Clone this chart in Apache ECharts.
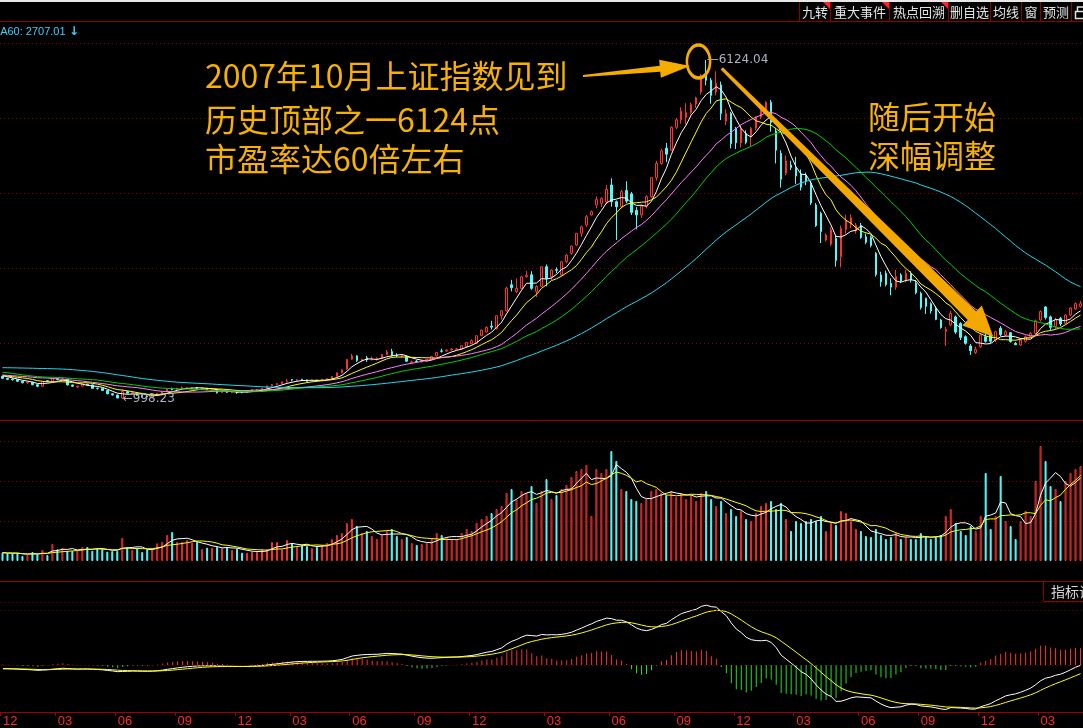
<!DOCTYPE html>
<html>
<head>
<meta charset="utf-8">
<script src="https://cdn.jsdelivr.net/npm/echarts/dist/echarts.min.js"></script>
<style>
html, body { margin: 0; padding: 0; background: #000; }
#main { width: 1083px; height: 728px; }
</style>
</head>
<body>
<div id="main"></div>
<script>
// weekly bars, Shanghai composite, Dec 2004 - Apr 2009
var weeks = [
  '2004-12-10','2004-12-17','2004-12-24','2004-12-31',
  '2005-01-07','2005-01-14','2005-01-21','2005-01-28','2005-02-04','2005-02-18','2005-02-25','2005-03-04','2005-03-11','2005-03-18','2005-03-25',
  '2005-04-01','2005-04-08','2005-04-15','2005-04-22','2005-04-29','2005-05-13','2005-05-20','2005-05-27','2005-06-03','2005-06-10','2005-06-17',
  '2005-06-24','2005-07-01','2005-07-08','2005-07-15','2005-07-22','2005-07-29','2005-08-05','2005-08-12','2005-08-19','2005-08-26','2005-09-02',
  '2005-09-09','2005-09-16','2005-09-23','2005-09-30','2005-10-14','2005-10-21','2005-10-28','2005-11-04','2005-11-11','2005-11-18','2005-11-25',
  '2005-12-02','2005-12-09','2005-12-16','2005-12-23','2005-12-30',
  '2006-01-06','2006-01-13','2006-01-20','2006-01-27','2006-02-10','2006-02-17','2006-02-24','2006-03-03','2006-03-10','2006-03-17','2006-03-24',
  '2006-03-31','2006-04-07','2006-04-14','2006-04-21','2006-04-28','2006-05-12','2006-05-19','2006-05-26','2006-06-02','2006-06-09','2006-06-16',
  '2006-06-23','2006-06-30','2006-07-07','2006-07-14','2006-07-21','2006-07-28','2006-08-04','2006-08-11','2006-08-18','2006-08-25','2006-09-01',
  '2006-09-08','2006-09-15','2006-09-22','2006-09-29','2006-10-13','2006-10-20','2006-10-27','2006-11-03','2006-11-10','2006-11-17','2006-11-24',
  '2006-12-01','2006-12-08','2006-12-15','2006-12-22','2006-12-29',
  '2007-01-05','2007-01-12','2007-01-19','2007-01-26','2007-02-02','2007-02-09','2007-02-16','2007-03-02','2007-03-09','2007-03-16','2007-03-23',
  '2007-03-30','2007-04-06','2007-04-13','2007-04-20','2007-04-27','2007-04-30','2007-05-11','2007-05-18','2007-05-25','2007-06-01','2007-06-08',
  '2007-06-15','2007-06-22','2007-06-29','2007-07-06','2007-07-13','2007-07-20','2007-07-27','2007-08-03','2007-08-10','2007-08-17','2007-08-24',
  '2007-08-31','2007-09-07','2007-09-14','2007-09-21','2007-09-28','2007-10-12','2007-10-19','2007-10-26','2007-11-02','2007-11-09','2007-11-16',
  '2007-11-23','2007-11-30','2007-12-07','2007-12-14','2007-12-21','2007-12-28',
  '2008-01-04','2008-01-11','2008-01-18','2008-01-25','2008-02-01','2008-02-05','2008-02-15','2008-02-22','2008-02-29','2008-03-07','2008-03-14',
  '2008-03-21','2008-03-28','2008-04-03','2008-04-11','2008-04-18','2008-04-25','2008-04-30','2008-05-09','2008-05-16','2008-05-23','2008-05-30',
  '2008-06-06','2008-06-13','2008-06-20','2008-06-27','2008-07-04','2008-07-11','2008-07-18','2008-07-25','2008-08-01','2008-08-08','2008-08-15',
  '2008-08-22','2008-08-29','2008-09-05','2008-09-12','2008-09-19','2008-09-26','2008-10-10','2008-10-17','2008-10-24','2008-10-31','2008-11-07',
  '2008-11-14','2008-11-21','2008-11-28','2008-12-05','2008-12-12','2008-12-19','2008-12-26','2008-12-31',
  '2009-01-09','2009-01-16','2009-01-23','2009-02-06','2009-02-13','2009-02-20','2009-02-27','2009-03-06','2009-03-13','2009-03-20','2009-03-27',
  '2009-04-03','2009-04-10'
];

// [open, close, low, high]
var ohlc = [
  [1340,1311,1300,1345],[1311,1296,1283,1320],[1300,1290,1275,1310],[1290,1266,1259,1295],
  [1266,1243,1235,1270],[1243,1253,1228,1262],[1253,1215,1205,1258],[1215,1191,1177,1222],[1190,1262,1186,1268],[1275,1265,1250,1285],
  [1265,1306,1260,1312],[1306,1290,1280,1318],[1285,1300,1270,1328],[1300,1210,1205,1302],[1210,1192,1180,1215],[1180,1192,1165,1200],
  [1192,1222,1185,1232],[1222,1211,1200,1230],[1211,1159,1150,1215],[1162,1159,1140,1170],[1159,1126,1120,1165],[1126,1077,1070,1130],
  [1077,1060,1050,1085],[1058,1013,1010,1065],[1012,1111,998.23,1146],[1110,1087,1080,1120],[1080,1096,1070,1110],[1095,1055,1050,1100],
  [1055,1040,1020,1060],[1042,1035,1004,1050],[1035,1050,1030,1060],[1050,1083,1045,1090],[1083,1110,1075,1115],[1110,1150,1105,1155],
  [1150,1140,1130,1170],[1140,1162,1130,1168],[1162,1173,1150,1190],[1160,1168,1145,1180],[1160,1170,1145,1175],[1172,1160,1150,1178],
  [1158,1162,1150,1170],[1162,1138,1130,1165],[1135,1140,1110,1150],[1140,1093,1080,1145],[1093,1118,1090,1125],[1118,1098,1090,1122],
  [1098,1104,1085,1110],[1104,1095,1075,1108],[1100,1095,1085,1105],[1095,1115,1092,1120],[1115,1140,1112,1145],[1132,1138,1120,1148],
  [1138,1161,1128,1163],
  [1163,1195,1160,1200],[1195,1215,1190,1225],[1215,1230,1205,1240],[1230,1258,1225,1260],[1258,1270,1250,1300],[1293,1285,1265,1300],
  [1280,1290,1275,1300],[1292,1285,1278,1305],[1285,1265,1258,1295],[1265,1283,1260,1290],[1283,1276,1270,1290],[1276,1298,1272,1300],
  [1298,1305,1290,1310],[1305,1340,1300,1345],[1340,1394,1338,1400],[1394,1440,1390,1445],[1450,1599,1445,1600],[1600,1650,1590,1680],
  [1650,1579,1560,1660],[1579,1600,1560,1605],[1620,1590,1560,1650],[1590,1600,1580,1640],[1600,1610,1580,1630],[1610,1672,1605,1680],
  [1672,1710,1665,1740],[1715,1660,1640,1757],[1660,1655,1630,1690],[1650,1660,1620,1680],[1640,1570,1560,1650],[1545,1560,1541,1580],
  [1570,1560,1545,1590],[1560,1575,1550,1590],[1575,1600,1570,1610],[1600,1640,1590,1650],[1650,1700,1640,1710],[1725,1720,1700,1760],
  [1722,1738,1715,1750],[1740,1753,1730,1770],[1750,1756,1740,1770],[1753,1804,1745,1815],[1790,1854,1780,1860],[1835,1879,1825,1900],
  [1840,1955,1830,1960],[1955,2040,1950,2050],[2010,2080,2000,2100],[2100,2085,2050,2181],[2060,2257,2050,2260],[2257,2333,2200,2340],
  [2333,2675,2320,2698],
  [2725,2680,2626,2800],[2622,2672,2600,2822],[2672,2847,2660,2860],[2850,2870,2830,2938],[2877,2672,2650,2931],[2626,2700,2541,2720],
  [2702,2998,2690,3000],[2998,2822,2702,3033],[2847,2948,2797,2960],[2955,2945,2900,2990],[2872,3074,2860,3080],[3074,3175,3050,3190],
  [3200,3311,3180,3320],[3327,3504,3310,3510],[3504,3603,3450,3620],[3629,3755,3600,3780],[3780,3830,3770,3850],[3931,4017,3880,4060],
  [3957,4032,3900,4050],[3982,4168,3950,4234],[4234,3982,3906,4335],[3982,3906,3402,4000],[3906,4133,3880,4160],[4150,3990,3960,4290],
  [4100,3820,3780,4130],[3850,3781,3563,3900],[3781,3914,3740,3940],[3914,4058,3880,4080],[4058,4345,4040,4350],[4345,4560,4300,4600],
  [4560,4750,4540,4780],[4790,4700,4580,4870],[4760,5107,4750,5120],[5107,5219,5080,5250],[5219,5350,5160,5410],[5260,5330,5150,5470],
  [5330,5450,5300,5480],[5460,5553,5400,5570],[5640,5870,5600,5913],[5950,5818,5740,6124.04],[5818,5589,5462,5850],[5640,5770,5590,5954],
  [5746,5316,5216,5797],[5200,5317,5138,5380],[5317,4861,4788,5340],[5090,4871,4778,5110],[4871,5091,4800,5140],[5010,4880,4850,5060],
  [4965,5091,4812,5110],[5091,5262,5060,5270],
  [5262,5361,5230,5400],[5361,5485,5330,5500],[5485,5180,5040,5522],[5050,4761,4560,5100],[4713,4320,4195,4760],[4410,4600,4380,4680],
  [4537,4497,4460,4600],[4500,4370,4250,4660],[4400,4200,4150,4470],[4380,4290,4230,4420],[4259,3962,3930,4300],[3931,3620,3600,3960],
  [3806,3530,3357,3830],[3402,3478,3380,3500],[3340,3560,3310,3600],[3427,3094,3000,3470],[3150,3580,2990,3620],[3560,3700,3500,3786],
  [3640,3740,3580,3790],[3540,3626,3500,3660],[3620,3440,3420,3660],[3450,3370,3340,3500],[3440,3320,3290,3470],[3200,2880,2850,3220],
  [2873,2772,2696,2923],[2900,2730,2700,2940],[2747,2690,2566,2822],[2690,2850,2650,2950],[2873,2780,2750,2900],[2780,2898,2760,2952],
  [2898,2797,2760,2930],[2747,2605,2580,2790],[2596,2380,2350,2620],[2520,2400,2284,2530],[2440,2330,2290,2460],[2369,2202,2190,2400],
  [2193,2079,2060,2210],[2020,2052,1802,2090],[2117,2293,2100,2333],[2240,2010,1980,2260],[2140,1930,1890,2160],[1940,1840,1820,1960],
  [1800,1728,1664.93,1830],[1700,1747,1680,1790],[1789,1966,1770,2000],[1940,1870,1850,2010],[1966,1871,1840,1990],[1890,2016,1860,2030],
  [2067,1970,1950,2100],[1966,2016,1950,2040],[2001,1865,1850,2010],[1840,1820,1814,1860],
  [1815,1890,1800,1920],[1870,1940,1850,1960],[1940,1990,1930,2010],[1991,2181,1980,2200],[2193,2320,2170,2340],[2390,2230,2200,2402],
  [2240,2082,2037,2260],[2092,2193,2050,2230],[2218,2133,2100,2240],[2142,2268,2120,2280],[2268,2374,2250,2390],[2360,2440,2340,2460],
  [2400,2440,2380,2480]
];

var volume = [
  83,77,77,77,50,60,90,67,110,60,170,117,130,103,100,103,140,140,103,127,117,93,100,100,230,137,110,133,90,117,
  117,177,190,260,290,190,190,210,183,193,120,133,133,140,130,140,110,123,83,83,93,93,117,117,190,190,117,210,177,143,
  160,150,130,140,160,180,220,260,280,380,420,350,280,300,250,220,260,300,320,250,220,240,180,160,170,180,220,280,260,240,
  220,220,280,320,300,380,420,450,480,520,550,680,720,620,700,680,750,580,700,820,620,660,720,760,840,900,920,960,450,920,
  880,920,1100,1000,720,700,620,600,580,620,700,720,680,660,700,640,680,620,660,600,680,700,620,550,600,480,520,450,500,420,
  400,480,550,580,600,520,580,420,300,400,380,400,420,400,450,300,380,360,500,480,400,320,300,250,240,320,260,220,240,280,
  220,240,220,220,280,250,220,240,260,450,520,380,300,260,350,300,450,880,320,450,850,400,350,220,400,500,450,800,1150,1000,
  750,720,600,800,880,920,950
];

// weekly closes before the first bar, only used to start the averages
var warmupCloses = [
  1365,1370,1360,1355,1345,1350,1330,1315,1340,1390,1400,1430,1450,1470,1497,1560,1580,1590,1640,1660,
  1690,1700,1720,1740,1730,1755,1760,1770,1700,1630,1590,1560,1610,1570,1580,1530,1480,1420,1400,1390,
  1380,1370,1385,1390,1360,1340,1360,1345,1310,1300,1450,1420,1380,1370,1330,1340,1360,1380,1350,1340
];

var monthTicks = [[0,'12'],[11,'03'],[23,'06'],[35,'09'],[47,'12'],[58,'03'],[70,'06'],[83,'09'],[94,'12'],
  [109,'03'],[122,'06'],[135,'09'],[147,'12'],[159,'03'],[172,'06'],[184,'09'],[196,'12'],[208,'03']];

var maPeriods = [5, 10, 20, 30, 60];
var maColors = ['#ffffff', '#ffff00', '#ff7fff', '#00d200', '#1fd8f0'];
var macdGuides = [0, 580, 660];

var RED = '#ff3030', CYAN = '#54fafa', GRIDRED = '#8c0000', LINERED = '#a00000';

var tickAt = {};
monthTicks.forEach(function (t) { tickAt[t[0]] = t[1]; });

function sma(values, n, start) {
    var out = [];
    for (var i = start; i < values.length; i++) {
        var s = 0, c = 0;
        for (var j = Math.max(0, i - n + 1); j <= i; j++) { s += values[j]; c++; }
        out.push(+(s / c).toFixed(2));
    }
    return out;
}
function ema(values, n) {
    var k = 2 / (n + 1), out = [], prev = values[0];
    values.forEach(function (v, i) {
        prev = i === 0 ? v : prev + k * (v - prev);
        out.push(prev);
    });
    return out;
}

var closes = ohlc.map(function (d) { return d[1]; });
var allCloses = warmupCloses.concat(closes);
var off = warmupCloses.length;

var maSeries = maPeriods.map(function (n, k) {
    return {
        name: 'MA' + n, type: 'line', xAxisIndex: 0, yAxisIndex: 0,
        data: sma(allCloses, n, off), showSymbol: false, symbol: 'none',
        lineStyle: { width: 1, color: maColors[k] }, z: 3
    };
});

var e12 = ema(allCloses, 12), e26 = ema(allCloses, 26);
var difAll = e12.map(function (v, i) { return v - e26[i]; });
var deaAll = ema(difAll, 9);
var dif = difAll.slice(off).map(function (v) { return +v.toFixed(2); });
var dea = deaAll.slice(off).map(function (v) { return +v.toFixed(2); });
var macdBars = dif.map(function (v, i) {
    var h = +(2 * (v - dea[i])).toFixed(2);
    return { value: h, itemStyle: { color: h >= 0 ? RED : '#22e022' } };
});

var volBars = volume.map(function (v, i) {
    var up = ohlc[i][1] >= ohlc[i][0];
    return { value: v, itemStyle: up ? { color: '#000', borderColor: RED, borderWidth: 1 } : { color: CYAN, borderColor: CYAN, borderWidth: 1 } };
});

var gridLeft = -1.5, gridWidth = 1085;

var chart = echarts.init(document.getElementById('main'));

var cjk = '"Noto Sans CJK SC", sans-serif';
var noteColor = '#f7b200';

function txt(x, y, text, font, color, align) {
    return {
        type: 'text', x: x, y: y, z: 100, silent: true,
        style: { text: text, font: font, fill: color, align: align || 'left', verticalAlign: 'middle',
                 textAlign: align || 'left', textVerticalAlign: 'middle' }
    };
}
function hline(y, color, x1, x2) {
    return { type: 'line', z: 50, silent: true, shape: { x1: x1 || 0, y1: y, x2: x2 || 1083, y2: y }, style: { stroke: color, lineWidth: 1 } };
}
function vline(x, y1, y2, color) {
    return { type: 'line', z: 50, silent: true, shape: { x1: x, y1: y1, x2: x, y2: y2 }, style: { stroke: color, lineWidth: 1 } };
}

var graphics = [
    { type: 'rect', z: 50, silent: true, shape: { x: 0, y: 0, width: 1083, height: 2 }, style: { fill: '#e8e8e8' } },
    hline(21.5, GRIDRED),
    hline(420.5, LINERED),
    hline(581.5, LINERED),
    // toolbar
    vline(799.5, 2, 21, GRIDRED), vline(830.5, 2, 21, GRIDRED), vline(889.5, 2, 21, GRIDRED), vline(948.5, 2, 21, GRIDRED),
    vline(990.5, 2, 21, GRIDRED), vline(1021.5, 2, 21, GRIDRED), vline(1040.5, 2, 21, GRIDRED), vline(1071.5, 2, 21, GRIDRED),
    txt(815, 12.5, '九转', '13px ' + cjk, '#e4e4e4', 'center'),
    txt(860, 12.5, '重大事件', '13px ' + cjk, '#e4e4e4', 'center'),
    txt(919, 12.5, '热点回溯', '13px ' + cjk, '#e4e4e4', 'center'),
    txt(969.5, 12.5, '删自选', '13px ' + cjk, '#e4e4e4', 'center'),
    txt(1006, 12.5, '均线', '13px ' + cjk, '#e4e4e4', 'center'),
    txt(1031, 12.5, '窗', '13px ' + cjk, '#e4e4e4', 'center'),
    txt(1056, 12.5, '预测', '13px ' + cjk, '#e4e4e4', 'center'),
    { type: 'polygon', z: 60, silent: true, shape: { points: [[823, 2], [830, 2], [830, 9]] }, style: { fill: '#ff2020' } },
    { type: 'polygon', z: 60, silent: true, shape: { points: [[882, 2], [889, 2], [889, 9]] }, style: { fill: '#ff2020' } },
    { type: 'polygon', z: 60, silent: true, shape: { points: [[941, 2], [948, 2], [948, 9]] }, style: { fill: '#ff2020' } },
    { type: 'rect', z: 60, silent: true, shape: { x: 1075.5, y: 11.5, width: 9, height: 7 }, style: { fill: 'none', stroke: '#e0e0e0', lineWidth: 1.5 } },
    { type: 'polyline', z: 60, silent: true, shape: { points: [[1077.5, 11], [1077.5, 7], [1083, 7]] }, style: { fill: 'none', stroke: '#e0e0e0', lineWidth: 1.5 } },
    // MA60 readout
    txt(-9, 31.5, 'MA60: 2707.01', '11px "Liberation Sans", Arial, sans-serif', '#3ad2ff'),
    txt(69, 31.5, '↓', 'bold 12px "DejaVu Sans", sans-serif', '#3ad2ff'),
    // indicator button
    { type: 'rect', z: 60, silent: true, shape: { x: 1043.5, y: 581.5, width: 45, height: 20 }, style: { fill: '#000', stroke: GRIDRED, lineWidth: 1 } },
    txt(1051, 592, '指标说明', '14px ' + cjk, '#d8d8d8'),
    // notes
    txt(205, 76, '2007年10月上证指数见到', '32px ' + cjk, noteColor),
    txt(205, 120, '历史顶部之一6124点', '32px ' + cjk, noteColor),
    txt(205, 159, '市盈率达60倍左右', '32px ' + cjk, noteColor),
    txt(868, 117, '随后开始', '32px ' + cjk, noteColor),
    txt(868, 156, '深幅调整', '32px ' + cjk, noteColor),
    { type: 'polygon', z: 90, silent: true,
      shape: { points: [[582.9, 75], [659.7, 65.8], [659.2, 59.8], [690, 66], [660.8, 77.8], [660.3, 71.8], [583.1, 77]] },
      style: { fill: '#f5ae00' } },
    { type: 'circle', z: 90, silent: true, x: 698.5, y: 61.5, scaleY: 1.42,
      shape: { cx: 0, cy: 0, r: 11.6 }, style: { fill: 'none', stroke: '#f5ae00', lineWidth: 2.6, strokeNoScale: true } },
    { type: 'polygon', z: 90, silent: true,
      shape: { points: [[722.8, 67.2], [976.2, 311.3], [981.8, 305.6], [993.3, 336.7], [962.2, 325.6], [967.8, 319.9], [720.6, 69.4]] },
      style: { fill: '#f2a800' } }
];

var option = {
    backgroundColor: '#000',
    animation: false,
    grid: [
        { left: gridLeft, width: gridWidth, top: 43, height: 375 },
        { left: gridLeft, width: gridWidth, top: 421, height: 140 },
        { left: gridLeft, width: gridWidth, top: 581, height: 131 }
    ],
    xAxis: [
        { type: 'category', gridIndex: 0, data: weeks, show: false },
        { type: 'category', gridIndex: 1, data: weeks, show: false },
        {
            type: 'category', gridIndex: 2, data: weeks,
            axisLine: { onZero: false, lineStyle: { color: LINERED, width: 1 } },
            axisTick: {
                show: true, length: 4, alignWithLabel: false,
                interval: function (i) { return tickAt[i] !== undefined; },
                lineStyle: { color: LINERED }
            },
            axisLabel: {
                interval: function (i) { return tickAt[i] !== undefined; },
                formatter: function (v, i) { return tickAt[i] || ''; },
                color: '#ff2a2a', fontSize: 13, fontFamily: '"Liberation Sans", Arial, sans-serif',
                align: 'left', margin: 3
            },
            splitLine: { show: false }
        }
    ],
    yAxis: [
        { type: 'value', gridIndex: 0, min: 711, max: 6381, show: false },
        {
            type: 'value', gridIndex: 0, min: 0, max: 5, interval: 1,
            axisLine: { show: false }, axisTick: { show: false }, axisLabel: { show: false },
            splitLine: { show: true, showMinLine: false, lineStyle: { color: GRIDRED, type: [1, 3], width: 1 } }
        },
        {
            type: 'value', gridIndex: 1, min: 0, max: 1400, interval: 400,
            axisLine: { show: false }, axisTick: { show: false }, axisLabel: { show: false },
            splitLine: { show: true, showMinLine: false, showMaxLine: false, lineStyle: { color: GRIDRED, type: [1, 3], width: 1 } }
        },
        { type: 'value', gridIndex: 2, min: -494, max: 882, show: false }
    ],
    series: [
        {
            name: 'K', type: 'candlestick', xAxisIndex: 0, yAxisIndex: 0, data: ohlc, barWidth: 2, z: 2,
            itemStyle: { color: '#000', color0: CYAN, borderColor: RED, borderColor0: CYAN, borderWidth: 1 },
            markPoint: {
                symbol: 'rect', symbolSize: 1, itemStyle: { color: 'rgba(0,0,0,0)' }, silent: true,
                label: { color: '#a8b4c2', fontSize: 12, fontFamily: '"DejaVu Sans", sans-serif', position: 'right', distance: 0 },
                data: [
                    { type: 'max', valueDim: 'highest', label: { formatter: function (p) { return '\u2014' + p.value.toFixed(2); } } },
                    { type: 'min', valueDim: 'lowest', label: { formatter: function (p) { return '\u2190' + p.value.toFixed(2); } } }
                ]
            }
        }
    ].concat(maSeries).concat([
        { name: 'VOL', type: 'bar', xAxisIndex: 1, yAxisIndex: 2, data: volBars, barWidth: 2 },
        { name: 'VMA5', type: 'line', xAxisIndex: 1, yAxisIndex: 2, data: sma(volume, 5, 0), showSymbol: false, symbol: 'none', lineStyle: { width: 1, color: '#ffffff' } },
        { name: 'VMA10', type: 'line', xAxisIndex: 1, yAxisIndex: 2, data: sma(volume, 10, 0), showSymbol: false, symbol: 'none', lineStyle: { width: 1, color: '#ffff00' } },
        { name: 'MACD', type: 'bar', xAxisIndex: 2, yAxisIndex: 3, data: macdBars, barWidth: 1 },
        {
            name: 'DIF', type: 'line', xAxisIndex: 2, yAxisIndex: 3, data: dif, showSymbol: false, symbol: 'none',
            lineStyle: { width: 1, color: '#ffffff' },
            markLine: {
                silent: true, symbol: 'none', label: { show: false },
                lineStyle: { color: GRIDRED, type: [1, 3], width: 1 },
                data: macdGuides.map(function (v) { return { yAxis: v }; })
            }
        },
        { name: 'DEA', type: 'line', xAxisIndex: 2, yAxisIndex: 3, data: dea, showSymbol: false, symbol: 'none', lineStyle: { width: 1, color: '#ffff00' } }
    ]),
    graphic: graphics
};

chart.setOption(option);
</script>
</body>
</html>
